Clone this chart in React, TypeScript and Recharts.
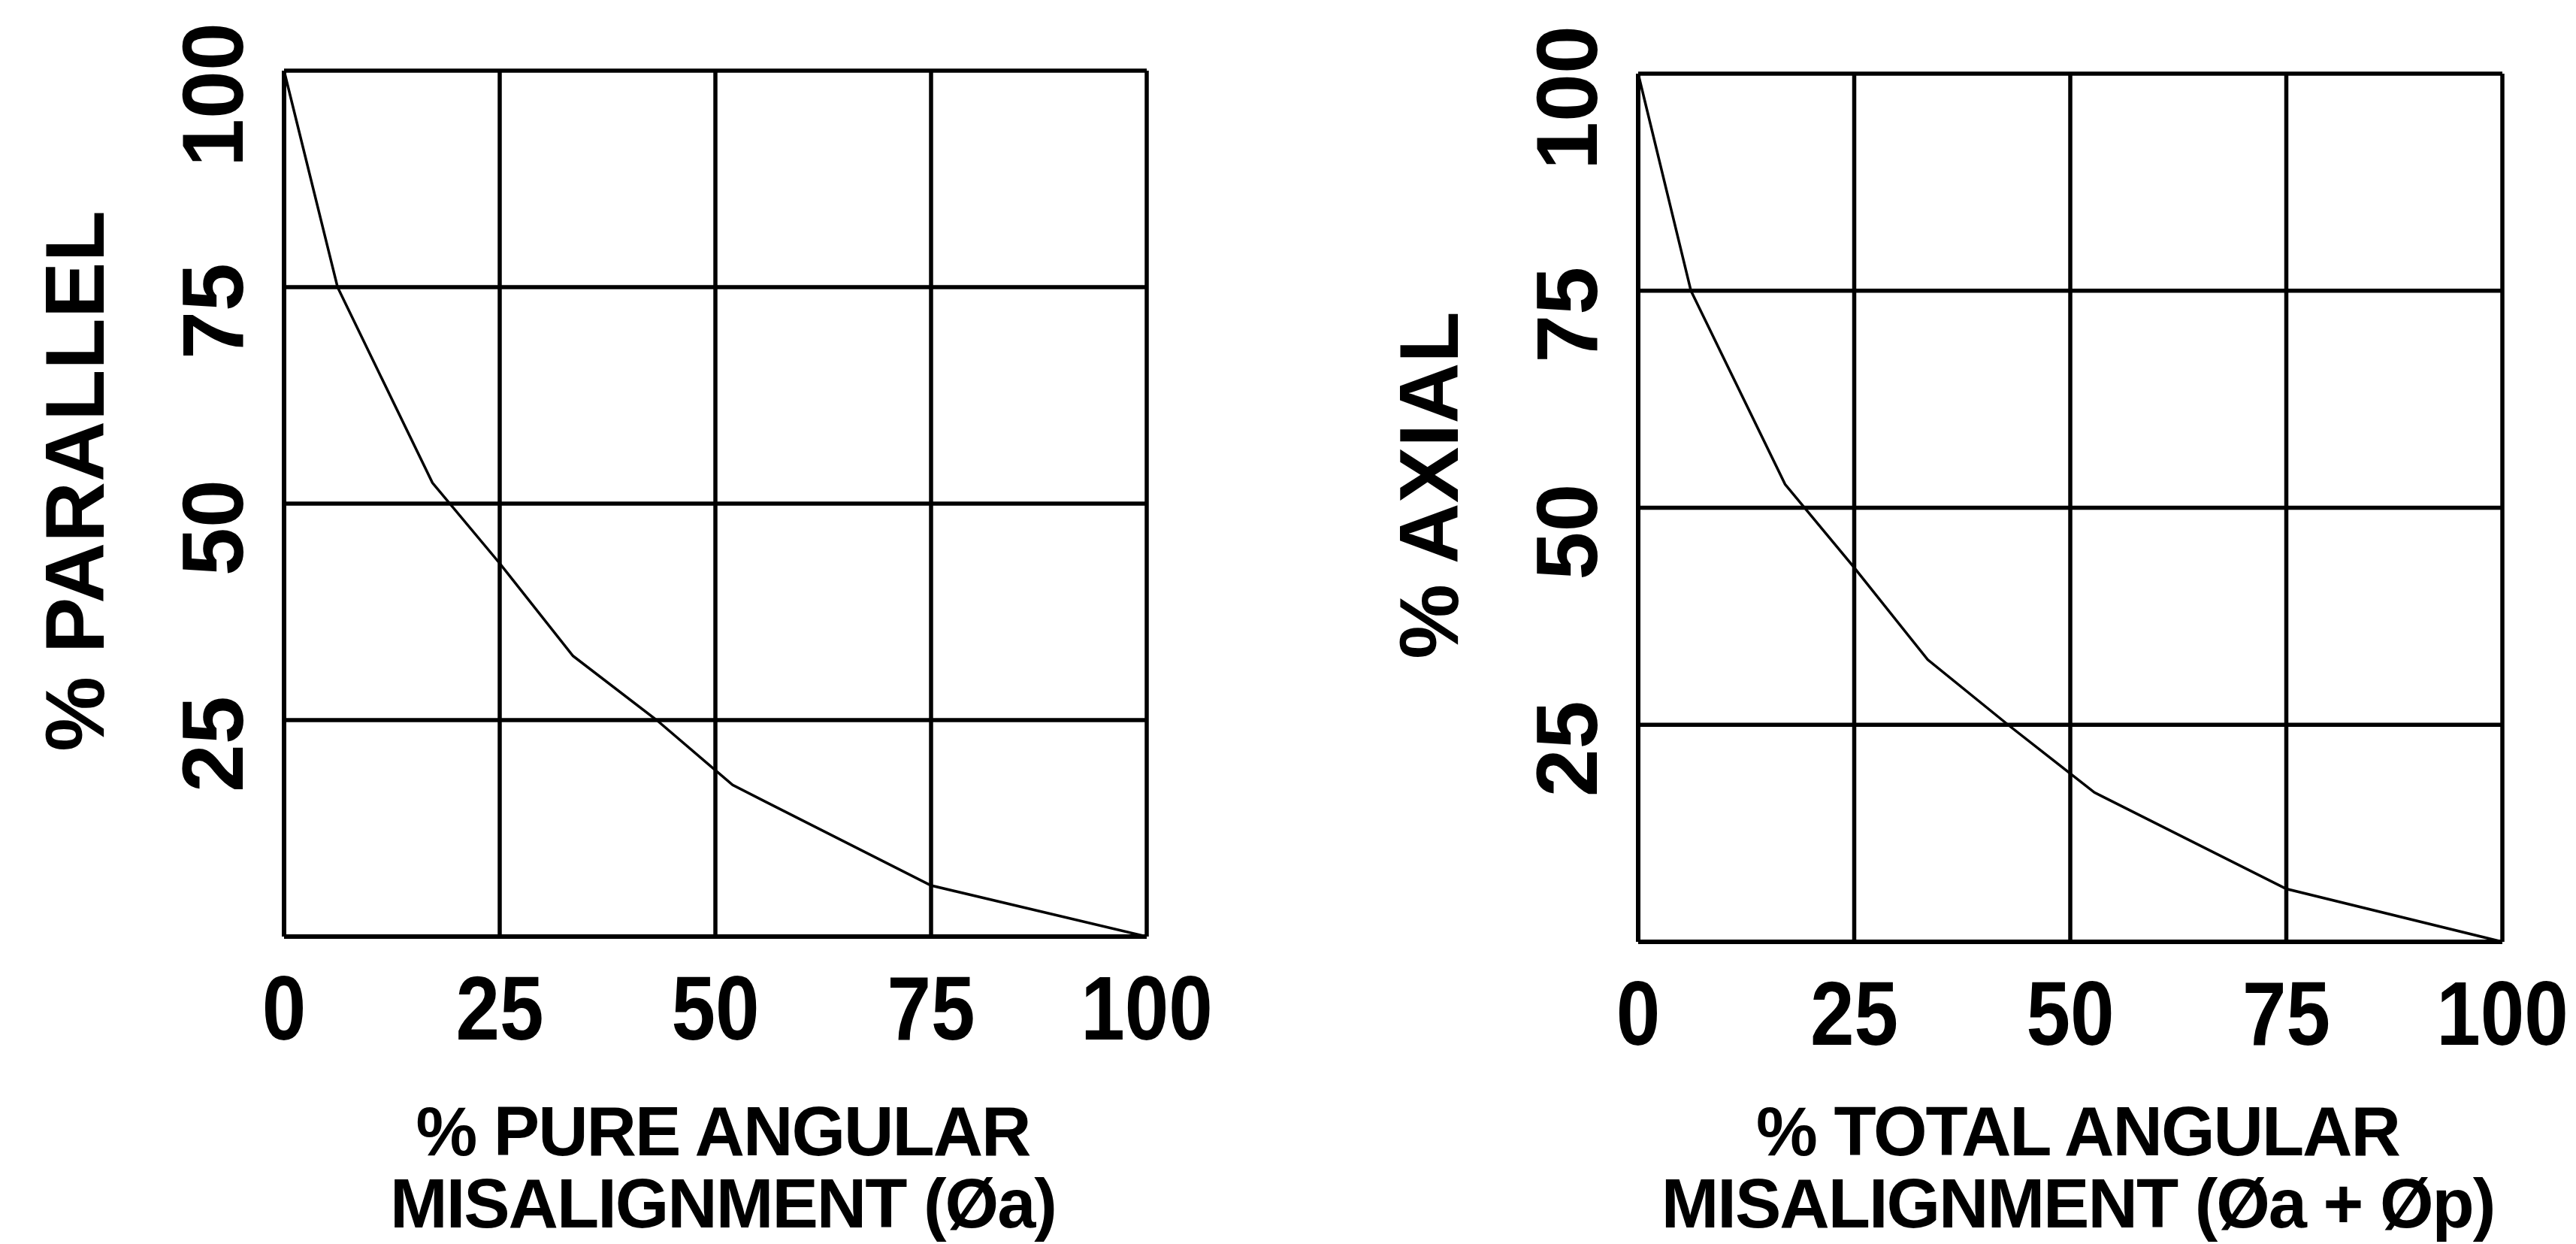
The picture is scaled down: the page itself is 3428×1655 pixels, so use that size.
import React from 'react';
import { LineChart, Line, XAxis, YAxis, CartesianGrid, Label } from 'recharts';

// % pure angular misalignment vs % parallel (left chart)
const pureAngularPct = [0, 6.2, 17.2, 25, 33.5, 43.2, 52, 75, 100];
const parallelPct = [100, 75, 52.4, 43.1, 32.4, 25, 17.5, 5.9, 0];

// % total angular misalignment vs % axial (right chart)
const totalAngularPct = [0, 6.1, 17, 25, 33.5, 42.8, 52.8, 75, 100];
const axialPct = [100, 75, 52.7, 43.1, 32.5, 25, 17.2, 6.1, 0];

const axisTicks = [0, 25, 50, 75, 100];
const yTickLabels = ['', '25', '50', '75', '100'];
const xTickLabels = ['0', '25', '50', '75', '100'];

const FONT = '"Liberation Sans", Arial, Helvetica, sans-serif';
const CHART_W = 1714;
const CHART_H = 1655;

const YTick = ({ x, y, payload }: any) => {
  const label = yTickLabels[axisTicks.indexOf(payload.value)];
  if (!label) return <g />;
  return (
    <text
      transform={`translate(${x - 55},${y + 32}) rotate(-90)`}
      textAnchor="middle"
      fontFamily={FONT}
      fontWeight={700}
      fontSize={115}
      fill="#000"
    >
      {label}
    </text>
  );
};

const XTick = ({ x, y, payload }: any) => (
  <text
    transform={`translate(${x},${y + 137}) scale(0.87,1)`}
    textAnchor="middle"
    fontFamily={FONT}
    fontWeight={700}
    fontSize={121}
    fill="#000"
  >
    {xTickLabels[axisTicks.indexOf(payload.value)]}
  </text>
);

interface ChartProps {
  xs: number[];
  ys: number[];
  yTitle: string;
  xTitle: string[];
  margin: { top: number; right: number; left: number; bottom: number };
  yAxisWidth: number;
  xAxisHeight: number;
  offsetLeft: number;
}

const MisalignmentChart: React.FC<ChartProps> = ({
  xs,
  ys,
  yTitle,
  xTitle,
  margin,
  yAxisWidth,
  xAxisHeight,
  offsetLeft
}) => {
  const data = xs.map((x, i) => ({ x, y: ys[i] }));

  const YTitle = ({ viewBox }: any) => {
    const cx = viewBox.x + viewBox.width - 240;
    const cy = viewBox.y + viewBox.height / 2 - 30;
    return (
      <text
        transform={`translate(${cx},${cy}) rotate(-90)`}
        textAnchor="middle"
        fontFamily={FONT}
        fontWeight={700}
        fontSize={112}
        fill="#000"
      >
        {yTitle}
      </text>
    );
  };

  // two-line title under the x axis, baselines measured from the bottom of the page
  const XTitle = ({ viewBox }: any) => {
    const cx = viewBox.x + viewBox.width / 2 + 10;
    return (
      <g>
        {xTitle.map((line, i) => (
          <text
            key={i}
            x={cx}
            y={CHART_H - 118 + i * 96}
            textAnchor="middle"
            fontFamily={FONT}
            fontWeight={700}
            fontSize={92}
            letterSpacing={-2}
            fill="#000"
          >
            {line}
          </text>
        ))}
      </g>
    );
  };

  return (
    <div style={{ position: 'absolute', left: offsetLeft, top: 0 }}>
      <LineChart width={CHART_W} height={CHART_H} data={data} margin={margin}>
        <CartesianGrid stroke="#000" strokeWidth={5.5} />
        <XAxis
          dataKey="x"
          type="number"
          domain={[0, 100]}
          ticks={axisTicks}
          height={xAxisHeight}
          axisLine={{ stroke: '#000', strokeWidth: 6 }}
          tickLine={false}
          tickSize={0}
          tickMargin={0}
          tick={<XTick />}
          interval={0}
        >
          <Label content={<XTitle />} />
        </XAxis>
        <YAxis
          type="number"
          domain={[0, 100]}
          ticks={axisTicks}
          width={yAxisWidth}
          axisLine={{ stroke: '#000', strokeWidth: 6 }}
          tickLine={false}
          tickSize={0}
          tickMargin={0}
          tick={<YTick />}
          interval={0}
        >
          <Label content={<YTitle />} />
        </YAxis>
        <Line
          type="linear"
          dataKey="y"
          stroke="#000"
          strokeWidth={3.5}
          dot={false}
          isAnimationActive={false}
        />
      </LineChart>
    </div>
  );
};

export default function App() {
  return (
    <div
      style={{
        position: 'fixed',
        left: 0,
        top: 0,
        width: 3428,
        height: 1655,
        background: '#fff',
        overflow: 'hidden'
      }}
    >
      <MisalignmentChart
        xs={pureAngularPct}
        ys={parallelPct}
        yTitle="% PARALLEL"
        xTitle={['% PURE ANGULAR', 'MISALIGNMENT (Øa)']}
        margin={{ top: 94, right: 188, left: 0, bottom: 0 }}
        yAxisWidth={378}
        xAxisHeight={409}
        offsetLeft={0}
      />
      <MisalignmentChart
        xs={totalAngularPct}
        ys={axialPct}
        yTitle="% AXIAL"
        xTitle={['% TOTAL ANGULAR', 'MISALIGNMENT (Øa + Øp)']}
        margin={{ top: 98, right: 98, left: 0, bottom: 0 }}
        yAxisWidth={466}
        xAxisHeight={402}
        offsetLeft={1714}
      />
    </div>
  );
}
